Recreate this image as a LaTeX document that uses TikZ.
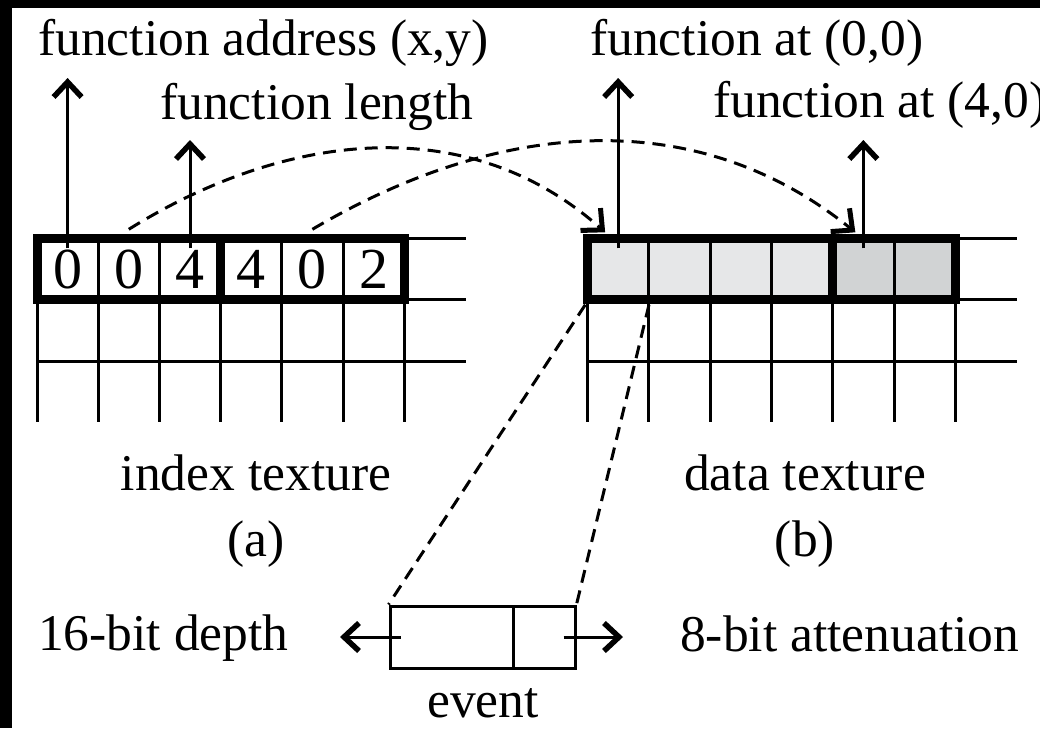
\documentclass[tikz,border=0pt]{standalone}
\usepackage{fontspec}
\setmainfont{Liberation Serif}
\usetikzlibrary{arrows.meta,calc}
\definecolor{lightcell}{HTML}{E6E7E8}
\definecolor{darkcell}{HTML}{D1D3D4}
\begin{document}
\begin{tikzpicture}[x=1pt,y=-1pt,
  gridline/.style={line width=3pt},
  frame/.style={line width=9pt},
  uparrow/.style={line width=3pt,-{Straight Barb[length=15pt,width=28pt,line width=5.5pt]}},
  sidearrow/.style={line width=3pt,-{Straight Barb[length=15pt,width=28pt,line width=5.5pt]}},
  dasharrow/.style={line width=3pt,dash pattern=on 13pt off 8pt,-{Straight Barb[length=16pt,width=30pt,line width=5pt]}},
  dashline/.style={line width=3pt,dash pattern=on 13pt off 8pt},
  lbl/.style={font=\fontsize{51.5}{60}\selectfont,inner sep=0pt},
  digit/.style={font=\fontsize{58}{60}\selectfont,inner sep=0pt,minimum width=61.2pt,minimum height=61pt},
  cell/.style={inner sep=0pt,minimum width=61.3pt,minimum height=61pt},
  evbox/.style={draw,line width=3pt,inner sep=0pt,minimum height=62pt},
]
\fill[black] (0,0) rectangle (1040,728);
\fill[white] (12,8) rectangle (1040,728);
\useasboundingbox (0,0) rectangle (1040,728);

% ---------- index texture grid ----------
\foreach \y in {238.5,299.5,361.7} \draw[gridline] (37,\y) -- (466,\y);
\foreach \i in {0,...,6} \draw[gridline] (37+61.2*\i,238.5) -- (37+61.2*\i,421.7);
\draw[frame] (37,238.5) rectangle (220.6,299.5);
\draw[frame] (220.6,238.5) rectangle (404.2,299.5);
\foreach \v [count=\k] in {0,0,4,4,0,2}
  \node[digit] (a\k) at (37+61.2*\k-30.6,269) {\v};

% ---------- data texture grid ----------
\fill[lightcell] (587.5,238.5) rectangle (832.7,299.5);
\fill[darkcell] (832.7,238.5) rectangle (955.3,299.5);
\foreach \y in {238.5,299.5,361.7} \draw[gridline] (587.5,\y) -- (1017,\y);
\foreach \i in {0,...,6} \draw[gridline] (587.5+61.3*\i,238.5) -- (587.5+61.3*\i,421.7);
\draw[frame] (587.5,238.5) rectangle (832.7,299.5);
\draw[frame] (832.7,238.5) rectangle (955.3,299.5);
\foreach \k in {1,...,6}
  \node[cell] (b\k) at (587.5+61.3*\k-30.65,269) {};

% ---------- labels ----------
\node[lbl,anchor=base west] (faddr) at (38,55) {function address (x,y)};
\node[lbl,anchor=base west] (flen) at (160,119) {function length};
\node[lbl,anchor=base west] (f00) at (590,55) {function at (0,0)};
\node[lbl,anchor=base west] (f40) at (713,117) {function at (4,0)};
\node[lbl,anchor=base] (itex) at (256,490) {index texture};
\node[lbl,anchor=base] (la) at (256,556) {(a)};
\node[lbl,anchor=base] (dtex) at (805,490) {data texture};
\node[lbl,anchor=base] (lb) at (805,556) {(b)};
\node[lbl,anchor=base west] (depth) at (38,650) {16-bit depth};
\node[lbl,anchor=base west] (atten) at (680,651) {8-bit attenuation};
\node[lbl,anchor=base] (evlbl) at (483,717) {event};

% ---------- up arrows ----------
\coordinate (t1) at (a1.center |- 0,78);
\coordinate (t3) at (a3.center |- 0,140);
\coordinate (tb1) at (b1.center |- 0,78);
\coordinate (tb5) at (b5.center |- 0,140);
\draw[uparrow] ($(a1.north)+(0,10)$) -- (t1);
\draw[uparrow] ($(a3.north)+(0,10)$) -- (t3);
\draw[uparrow] ($(b1.north)+(0,10)$) -- (tb1);
\draw[uparrow] ($(b5.north)+(0,10)$) -- (tb5);

% ---------- dashed index arrows ----------
\draw[dasharrow] ($(a2.north)+(0,-9)$) .. controls (285,132) and (468,110) .. ($(b1.north)+(-13,-6)$);
\draw[dasharrow] ($(a5.north)+(0,-9)$) .. controls (494,122) and (693,101) .. ($(b5.north)+(-8,-6)$);

% ---------- event ----------
\node[evbox,minimum width=123pt] (e1) at (451.5,637) {};
\node[evbox,minimum width=62pt] (e2) at (544,637) {};
\draw[dashline] ($(b1.south west)+(-2,5)$) -- (e1.north west);
\draw[dashline] ($(b1.south east)+(0,5)$) -- (e2.north east);
\coordinate (ldep) at (340,637);
\coordinate (ratt) at (623,637);
\draw[sidearrow] ($(e1.west)+(12,0)$) -- (ldep);
\draw[sidearrow] ($(e2.east)+(-13,0)$) -- (ratt);
\end{tikzpicture}
\end{document}
